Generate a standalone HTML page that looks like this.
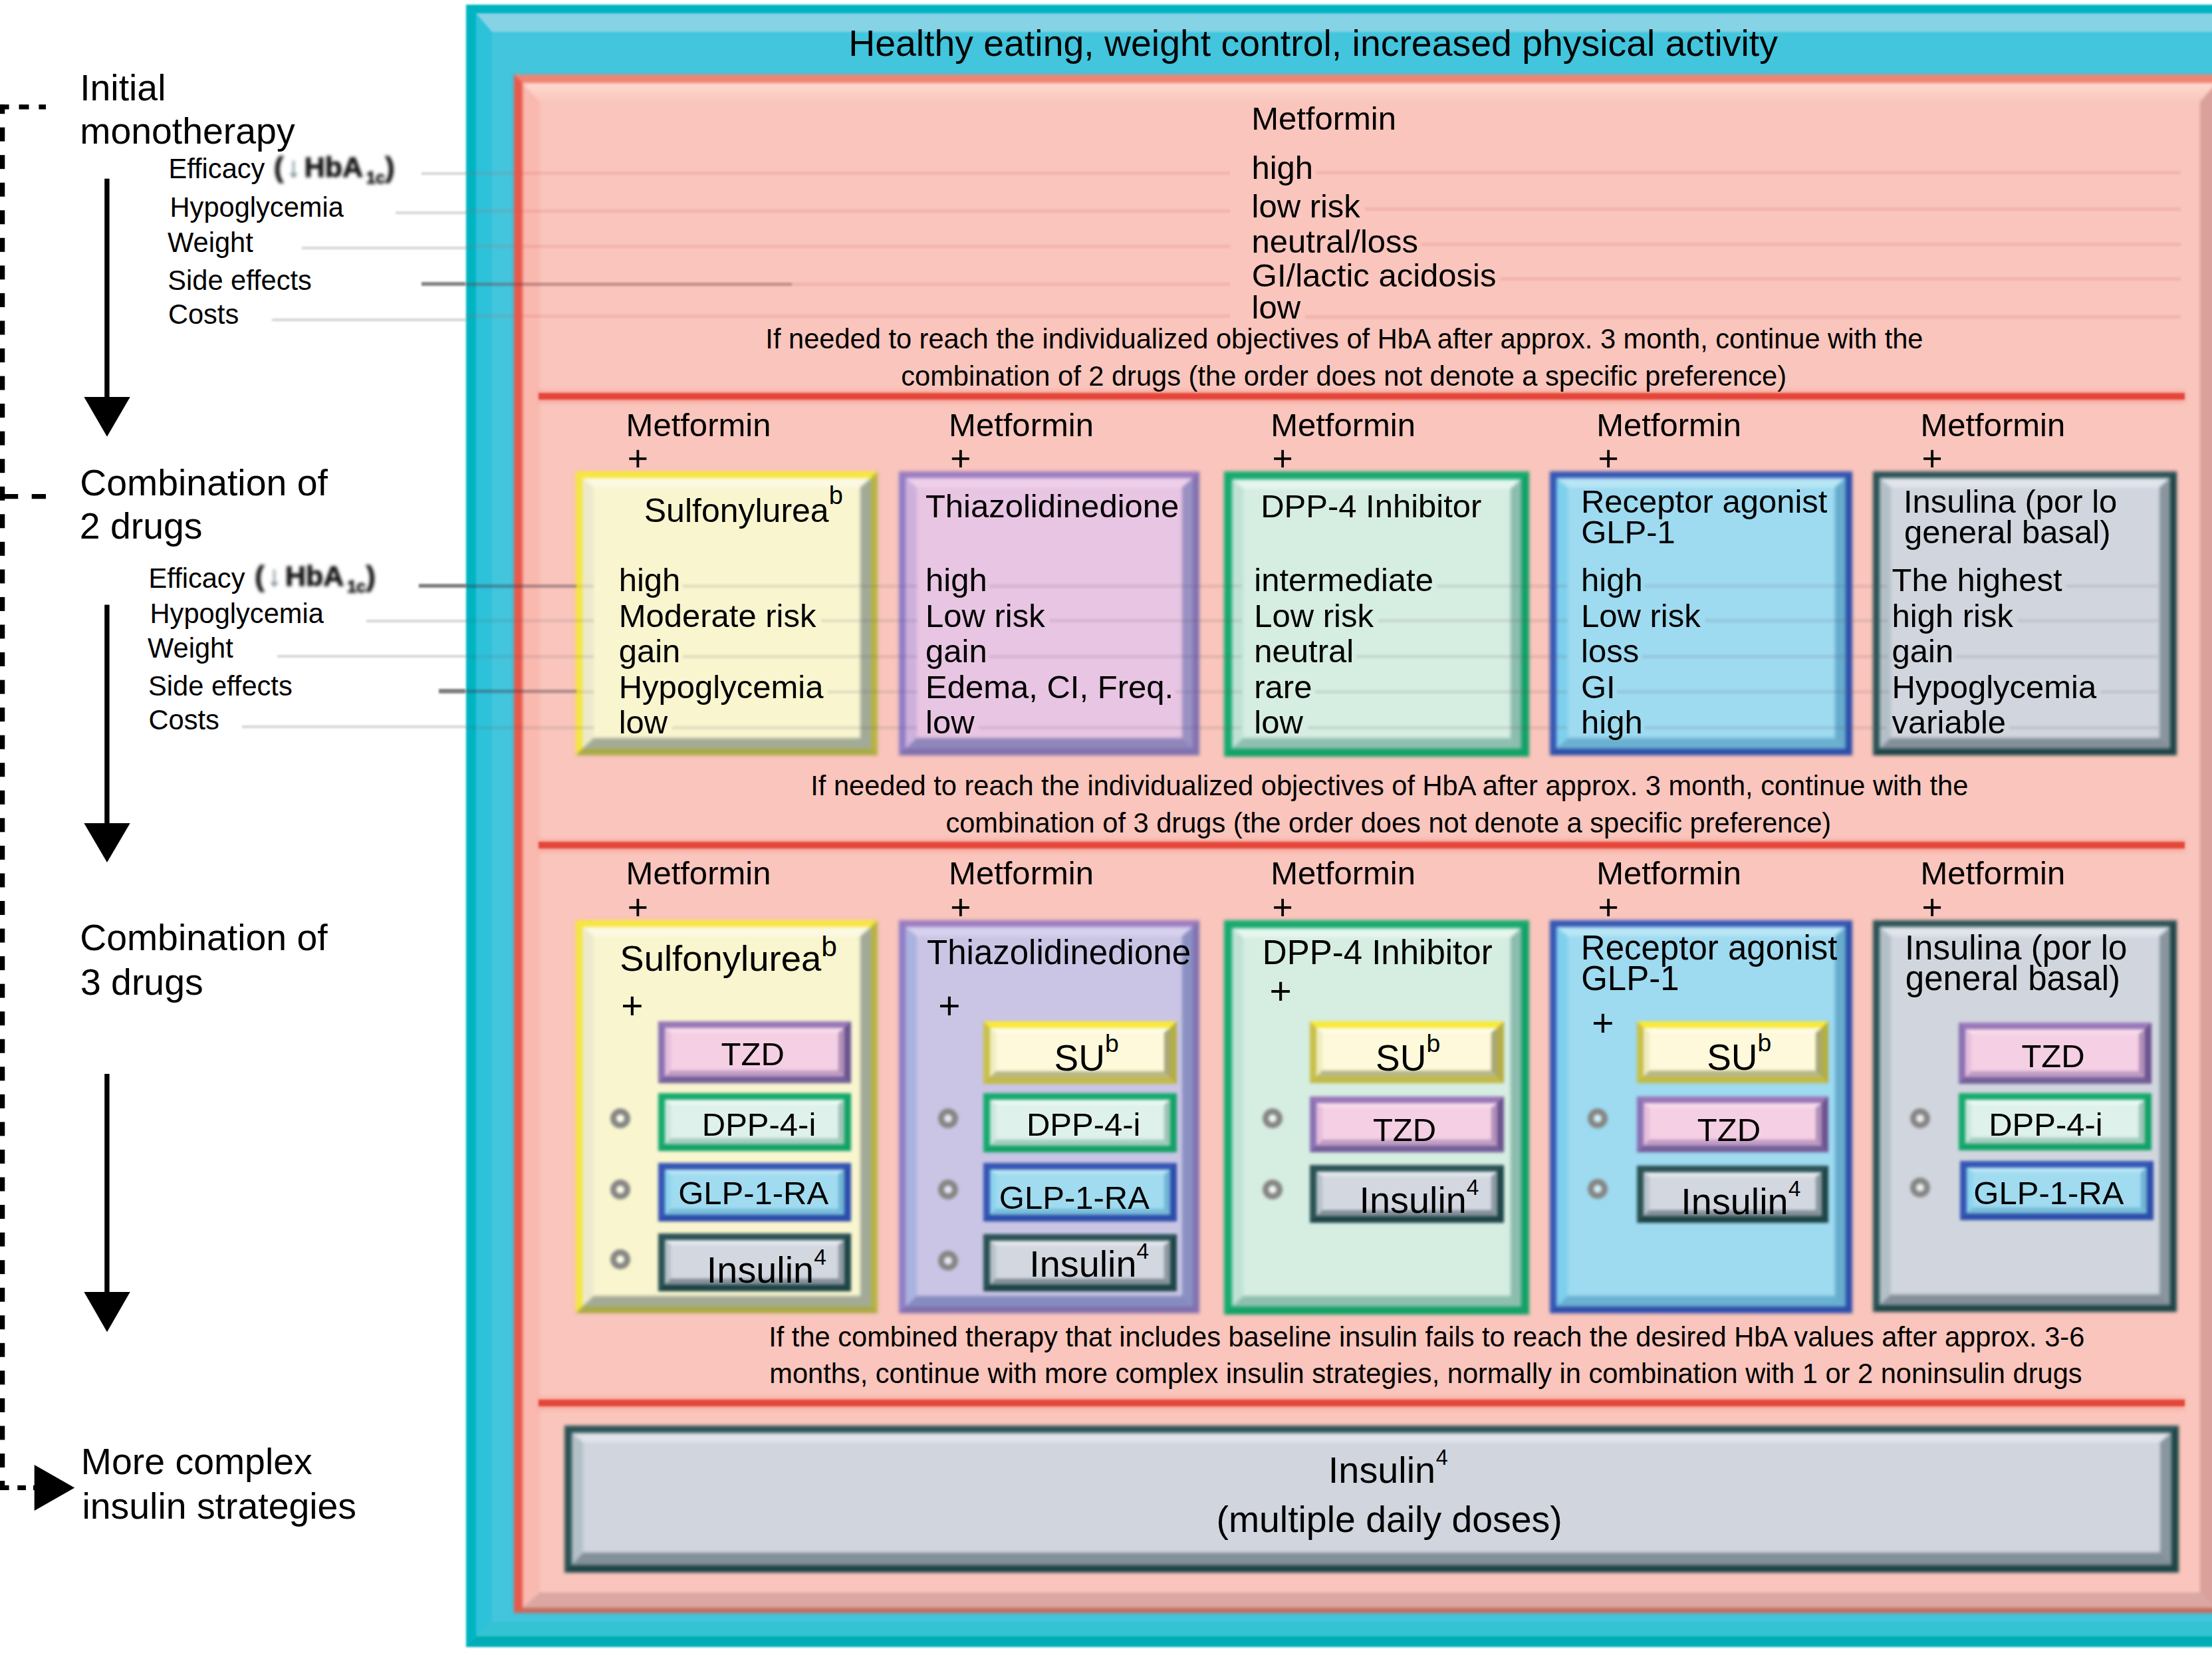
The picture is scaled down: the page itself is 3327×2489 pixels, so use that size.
<!DOCTYPE html>
<html lang="en"><head><meta charset="utf-8"><title>Type 2 diabetes therapy algorithm</title>
<style>
html,body{margin:0;padding:0;background:#fff}
body{width:3327px;height:2489px;position:relative;overflow:hidden;font-family:"Liberation Sans",sans-serif;color:#000}
.bx,.r,.t{position:absolute;box-sizing:border-box}
.bx{border-style:solid}
.bv{box-sizing:border-box;width:100%;height:100%;border-style:solid}
.t{line-height:1;white-space:nowrap}
.sp{position:relative;display:inline-block;line-height:0}
.ln{position:absolute;height:4px;filter:blur(1.5px)}
.dot{position:absolute;box-sizing:border-box;border-radius:50%;border:9px solid #868684;background:rgba(255,255,255,.5);filter:blur(2px)}
.hb{font-weight:bold;color:#141414;-webkit-text-stroke:1px #141414;filter:blur(2.4px);display:inline-block}
.ar{font-weight:normal;color:#71878f;-webkit-text-stroke:.5px #71878f;margin:0 .13em 0 .1em}
.sb{font-size:.58em;position:relative;top:.40em;margin:0 .02em 0 .2em}
.hbw{letter-spacing:0}
svg{position:absolute;left:0;top:0}
</style></head><body>
<div class="bx" style="left:701px;top:7px;width:2719px;height:2470px;border-width:13px 15px 16px 15px;border-color:#00b3c0 #00a8b4 #00adb6 #00b4c2;filter:blur(1.8px);"><div class="bv" style="border-width:28px 24px 22px 24px;border-color:#86d3e5 #2ab4c8 #33c3d3 #2ec2da;background:#42c5dd"></div></div>
<div class="bx" style="left:773px;top:112px;width:2573px;height:2314px;border-width:13px 13px 8px 13px;border-color:#f08474 #c86a5c #c56c5d #e9594a;filter:blur(2.2px);"><div class="bv" style="border-width:28px 24px 23px 26px;border-color:#fbd0c6 #d9a09c #dba7a2 #f9b9af;background:#f9c5bc"></div><div class="r" style="left:0;top:0;width:100%;height:30px;background:linear-gradient(to bottom,#fedcd3,#fbd0c6 45%,#f9c5bc);clip-path:polygon(0 0,100% 0,calc(100% - 25.7px) 100%,27.9px 100%)"></div></div>
<div class="t" style="left:1276.16px;top:38.0039px;font-size:55.4px;">Healthy eating, weight control, increased physical activity</div>
<div class="r" style="left:810px;top:587.8px;width:2475.5px;height:17px;background:rgba(242,120,105,.4);filter:blur(3px)"></div>
<div class="r" style="left:810px;top:591.3px;width:2475.5px;height:10px;background:#e5463a;filter:blur(1.8px)"></div>
<div class="r" style="left:810px;top:1262.8px;width:2475.5px;height:17px;background:rgba(242,120,105,.4);filter:blur(3px)"></div>
<div class="r" style="left:810px;top:1266.3px;width:2475.5px;height:10px;background:#e5463a;filter:blur(1.8px)"></div>
<div class="r" style="left:810px;top:2101.5px;width:2475.5px;height:17px;background:rgba(242,120,105,.4);filter:blur(3px)"></div>
<div class="r" style="left:810px;top:2105px;width:2475.5px;height:10px;background:#e5463a;filter:blur(1.8px)"></div>
<div class="t" style="left:1882.18px;top:154.221px;font-size:49px;">Metformin</div>
<div class="t" style="left:1882.4px;top:228.221px;font-size:49px;">high</div>
<div class="t" style="left:1882.5px;top:286.122px;font-size:49px;">low risk</div>
<div class="t" style="left:1882.55px;top:339.122px;font-size:49px;">neutral/loss</div>
<div class="t" style="left:1882.84px;top:390.221px;font-size:49px;">GI/lactic acidosis</div>
<div class="t" style="left:1882.5px;top:438.421px;font-size:49px;">low</div>
<div class="t" style="left:1151.36px;top:489.086px;font-size:41.6px;">If needed to reach the individualized objectives of HbA after approx. 3 month, continue with the</div>
<div class="t" style="left:1355.23px;top:545.186px;font-size:41.6px;">combination of 2 drugs (the order does not denote a specific preference)</div>
<div class="t" style="left:941.58px;top:614.521px;font-size:49px;">Metformin</div>
<div class="t" style="left:943.788px;top:663.101px;font-size:53.5px;">+</div>
<div class="bx" style="left:866px;top:709px;width:453.5px;height:426.5px;border-width:10.5px 10.5px 10.5px 10.5px;border-color:#f6e73a #b5b444 #a9aa46 #f5e63c;filter:blur(2.8px);"><div class="bv" style="border-width:14px 16px 16px 17px;border-color:#fbf9e4 #a2aa98 #a3ab97 #eceacb;background:#f8f5cf"></div></div>
<div class="t" style="left:1427.08px;top:614.521px;font-size:49px;">Metformin</div>
<div class="t" style="left:1429.29px;top:663.101px;font-size:53.5px;">+</div>
<div class="bx" style="left:1352px;top:709px;width:452px;height:426.5px;border-width:10.5px 10.5px 10.5px 10.5px;border-color:#9b7cc0 #8272b2 #8070ae #8f7dc6;filter:blur(2.8px);"><div class="bv" style="border-width:14px 16px 16px 17px;border-color:#efd0ea #9a90c2 #8f86ba #cdb0dc;background:#e8c5e2"></div></div>
<div class="t" style="left:1911.18px;top:614.521px;font-size:49px;">Metformin</div>
<div class="t" style="left:1913.39px;top:663.101px;font-size:53.5px;">+</div>
<div class="bx" style="left:1840.5px;top:709px;width:459.5px;height:428.5px;border-width:12.5px 12.5px 12.5px 12.5px;border-color:#17aa6e #12a266 #12a266 #17aa6e;filter:blur(2.8px);"><div class="bv" style="border-width:14px 16px 16px 17px;border-color:#e6f6ef #8cbcae #8fbfb0 #c0e2d6;background:#d6ede2"></div></div>
<div class="t" style="left:2401.18px;top:614.521px;font-size:49px;">Metformin</div>
<div class="t" style="left:2403.39px;top:663.101px;font-size:53.5px;">+</div>
<div class="bx" style="left:2330.5px;top:709px;width:455.5px;height:426.5px;border-width:10.5px 10.5px 10.5px 10.5px;border-color:#3556b4 #2c4eaa #2c4eaa #3556b4;filter:blur(2.8px);"><div class="bv" style="border-width:14px 16px 16px 17px;border-color:#b8e6f5 #66accd #6ab0d0 #7ed0ee;background:#9edaf0"></div></div>
<div class="t" style="left:2888.38px;top:614.521px;font-size:49px;">Metformin</div>
<div class="t" style="left:2890.59px;top:663.101px;font-size:53.5px;">+</div>
<div class="bx" style="left:2817px;top:709px;width:457px;height:426.5px;border-width:10.5px 10.5px 10.5px 10.5px;border-color:#2c5356 #1e4648 #1c4446 #2a5254;filter:blur(2.8px);"><div class="bv" style="border-width:14px 16px 16px 17px;border-color:#e1e5eb #8996a0 #838f99 #b4c0c8;background:#d1d6de"></div></div>
<div class="t" style="left:968.729px;top:743.475px;font-size:50px;">Sulfonylurea<span class="sp" style="font-size:0.76em;top:-0.728947em;margin-left:0em">b</span></div>
<div class="t" style="left:1391.9px;top:736.821px;font-size:49px;">Thiazolidinedione</div>
<div class="t" style="left:1896.18px;top:736.521px;font-size:49px;">DPP-4 Inhibitor</div>
<div class="t" style="left:2377.98px;top:729.821px;font-size:49px;">Receptor agonist</div>
<div class="t" style="left:2378.24px;top:776.021px;font-size:49px;">GLP-1</div>
<div class="t" style="left:2862.88px;top:729.821px;font-size:49px;">Insulina (por lo</div>
<div class="t" style="left:2863.94px;top:776.121px;font-size:49px;">general basal)</div>
<div class="t" style="left:930.7px;top:848.321px;font-size:49px;">high</div>
<div class="t" style="left:930.7px;top:901.521px;font-size:49px;">Moderate risk</div>
<div class="t" style="left:930.7px;top:954.521px;font-size:49px;">gain</div>
<div class="t" style="left:930.7px;top:1008.52px;font-size:49px;">Hypoglycemia</div>
<div class="t" style="left:930.7px;top:1061.52px;font-size:49px;">low</div>
<div class="t" style="left:1392px;top:848.321px;font-size:49px;">high</div>
<div class="t" style="left:1392px;top:901.521px;font-size:49px;">Low risk</div>
<div class="t" style="left:1392px;top:954.521px;font-size:49px;">gain</div>
<div class="t" style="left:1392px;top:1008.52px;font-size:49px;">Edema, CI, Freq.</div>
<div class="t" style="left:1392px;top:1061.52px;font-size:49px;">low</div>
<div class="t" style="left:1886.3px;top:848.321px;font-size:49px;">intermediate</div>
<div class="t" style="left:1886.3px;top:901.521px;font-size:49px;">Low risk</div>
<div class="t" style="left:1886.3px;top:954.521px;font-size:49px;">neutral</div>
<div class="t" style="left:1886.3px;top:1008.52px;font-size:49px;">rare</div>
<div class="t" style="left:1886.3px;top:1061.52px;font-size:49px;">low</div>
<div class="t" style="left:2378px;top:848.321px;font-size:49px;">high</div>
<div class="t" style="left:2378px;top:901.521px;font-size:49px;">Low risk</div>
<div class="t" style="left:2378px;top:954.521px;font-size:49px;">loss</div>
<div class="t" style="left:2378px;top:1008.52px;font-size:49px;">GI</div>
<div class="t" style="left:2378px;top:1061.52px;font-size:49px;">high</div>
<div class="t" style="left:2845.5px;top:848.321px;font-size:49px;">The highest</div>
<div class="t" style="left:2845.5px;top:901.521px;font-size:49px;">high risk</div>
<div class="t" style="left:2845.5px;top:954.521px;font-size:49px;">gain</div>
<div class="t" style="left:2845.5px;top:1008.52px;font-size:49px;">Hypoglycemia</div>
<div class="t" style="left:2845.5px;top:1061.52px;font-size:49px;">variable</div>
<div class="t" style="left:1219.26px;top:1161.49px;font-size:41.6px;">If needed to reach the individualized objectives of HbA after approx. 3 month, continue with the</div>
<div class="t" style="left:1422.43px;top:1216.99px;font-size:41.6px;">combination of 3 drugs (the order does not denote a specific preference)</div>
<div class="t" style="left:941.58px;top:1289.32px;font-size:49px;">Metformin</div>
<div class="t" style="left:943.788px;top:1337.9px;font-size:53.5px;">+</div>
<div class="bx" style="left:866px;top:1384px;width:453.5px;height:590.6px;border-width:10.5px 10.5px 10.5px 10.5px;border-color:#f6e73a #b5b444 #a9aa46 #f5e63c;filter:blur(2.8px);"><div class="bv" style="border-width:14px 16px 16px 17px;border-color:#fbf9e4 #a2aa98 #a3ab97 #eceacb;background:#f8f5cf"></div></div>
<div class="t" style="left:1427.08px;top:1289.32px;font-size:49px;">Metformin</div>
<div class="t" style="left:1429.29px;top:1337.9px;font-size:53.5px;">+</div>
<div class="bx" style="left:1352px;top:1384px;width:452px;height:590.6px;border-width:10.5px 10.5px 10.5px 10.5px;border-color:#9b7cc0 #8272b2 #8070ae #8f7dc6;filter:blur(2.8px);"><div class="bv" style="border-width:14px 16px 16px 17px;border-color:#d6d2ee #8a90c2 #868cc0 #aab2e0;background:#cac5e5"></div></div>
<div class="t" style="left:1911.18px;top:1289.32px;font-size:49px;">Metformin</div>
<div class="t" style="left:1913.39px;top:1337.9px;font-size:53.5px;">+</div>
<div class="bx" style="left:1840.5px;top:1384px;width:459.5px;height:592.5px;border-width:12.5px 12.5px 12.5px 12.5px;border-color:#17aa6e #12a266 #12a266 #17aa6e;filter:blur(2.8px);"><div class="bv" style="border-width:14px 16px 16px 17px;border-color:#e6f6ef #8cbcae #8fbfb0 #c0e2d6;background:#d6ede2"></div></div>
<div class="t" style="left:2401.18px;top:1289.32px;font-size:49px;">Metformin</div>
<div class="t" style="left:2403.39px;top:1337.9px;font-size:53.5px;">+</div>
<div class="bx" style="left:2330.5px;top:1384px;width:455.5px;height:590.6px;border-width:10.5px 10.5px 10.5px 10.5px;border-color:#3556b4 #2c4eaa #2c4eaa #3556b4;filter:blur(2.8px);"><div class="bv" style="border-width:14px 16px 16px 17px;border-color:#b8e6f5 #66accd #6ab0d0 #7ed0ee;background:#9edaf0"></div></div>
<div class="t" style="left:2888.38px;top:1289.32px;font-size:49px;">Metformin</div>
<div class="t" style="left:2890.59px;top:1337.9px;font-size:53.5px;">+</div>
<div class="bx" style="left:2817px;top:1384px;width:457px;height:588.5px;border-width:10.5px 10.5px 10.5px 10.5px;border-color:#2c5356 #1e4648 #1c4446 #2a5254;filter:blur(2.8px);"><div class="bv" style="border-width:14px 16px 16px 17px;border-color:#e1e5eb #8996a0 #838f99 #b4c0c8;background:#d1d6de"></div></div>
<div class="t" style="left:932.325px;top:1415.17px;font-size:54.5px;">Sulfonylurea<span class="sp" style="font-size:0.78em;top:-0.512821em;margin-left:0em">b</span></div>
<div class="t" style="left:1394.05px;top:1407.23px;font-size:51px;">Thiazolidinedione</div>
<div class="t" style="left:1898.82px;top:1407.23px;font-size:51px;">DPP-4 Inhibitor</div>
<div class="t" style="left:2377.82px;top:1399.83px;font-size:51px;">Receptor agonist</div>
<div class="t" style="left:2378.14px;top:1445.83px;font-size:51px;">GLP-1</div>
<div class="t" style="left:2864.89px;top:1399.83px;font-size:51px;">Insulina (por lo</div>
<div class="t" style="left:2865.86px;top:1446.13px;font-size:51px;">general basal)</div>
<div class="t" style="left:934.217px;top:1483.7px;font-size:57px;">+</div>
<div class="t" style="left:1411.22px;top:1484.2px;font-size:57px;">+</div>
<div class="t" style="left:1909.62px;top:1461.7px;font-size:57px;">+</div>
<div class="t" style="left:2394.22px;top:1509.5px;font-size:57px;">+</div>
<div class="bx" style="left:990px;top:1536px;width:290px;height:92.5px;border-width:10px 10px 10px 10px;border-color:#9a78b8 #6c5490 #75609a #8a72b4;filter:blur(2.2px);"><div class="bv" style="border-width:7px 9px 9px 9px;border-color:#f8dcea #b090b8 #c09cc4 #e6bedc;background:#f5cfe3"></div></div>
<div class="t" style="left:1084.6px;top:1561.22px;font-size:49px;">TZD</div>
<div class="bx" style="left:990px;top:1643.5px;width:290px;height:87.8px;border-width:10px 10px 10px 10px;border-color:#17aa6e #12a266 #12a266 #17aa6e;filter:blur(2.2px);"><div class="bv" style="border-width:7px 9px 9px 9px;border-color:#eef9f4 #9cc4b6 #a4ccbe #cce6dc;background:#def1ea"></div></div>
<div class="t" style="left:1055.78px;top:1667.22px;font-size:49px;">DPP-4-i</div>
<div class="bx" style="left:990px;top:1749px;width:290px;height:88.3px;border-width:10px 10px 10px 10px;border-color:#3556b4 #2c4eaa #2c4eaa #3556b4;filter:blur(2.2px);"><div class="bv" style="border-width:7px 9px 9px 9px;border-color:#b8e6f5 #70b4d4 #78bcd8 #8cd4ee;background:#a0dbf0"></div></div>
<div class="t" style="left:1020.14px;top:1770.02px;font-size:49px;">GLP-1-RA</div>
<div class="bx" style="left:990px;top:1855px;width:290px;height:87px;border-width:10px 10px 10px 10px;border-color:#2c5356 #1e4648 #1c4446 #2a5254;filter:blur(2.2px);"><div class="bv" style="border-width:7px 9px 9px 9px;border-color:#e4e8ee #8c98a2 #848f99 #b8c2ca;background:#d3d8e0"></div></div>
<div class="t" style="left:1062.85px;top:1882.47px;font-size:55.8px;">Insulin<span class="sp" style="font-size:0.6em;top:-0.816667em;margin-left:0em">4</span></div>
<div class="bx" style="left:1479.2px;top:1536px;width:290.4px;height:94px;border-width:10px 10px 10px 10px;border-color:#f8e93a #b4ae44 #c2ba48 #c8c04c;filter:blur(2.2px);"><div class="bv" style="border-width:7px 9px 9px 9px;border-color:#fefce8 #a8a878 #b8b888 #f0ecc0;background:#fdf9da"></div></div>
<div class="t" style="left:1585.5px;top:1564.24px;font-size:55px;">SU<span class="sp" style="font-size:0.68em;top:-0.75em;margin-left:0em">b</span></div>
<div class="bx" style="left:1479.2px;top:1643.5px;width:290.4px;height:89.1px;border-width:10px 10px 10px 10px;border-color:#17aa6e #12a266 #12a266 #17aa6e;filter:blur(2.2px);"><div class="bv" style="border-width:7px 9px 9px 9px;border-color:#eef9f4 #9cc4b6 #a4ccbe #cce6dc;background:#def1ea"></div></div>
<div class="t" style="left:1543.98px;top:1667.22px;font-size:49px;">DPP-4-i</div>
<div class="bx" style="left:1479.2px;top:1749px;width:290.4px;height:88.3px;border-width:10px 10px 10px 10px;border-color:#3556b4 #2c4eaa #2c4eaa #3556b4;filter:blur(2.2px);"><div class="bv" style="border-width:7px 9px 9px 9px;border-color:#b8e6f5 #70b4d4 #78bcd8 #8cd4ee;background:#a0dbf0"></div></div>
<div class="t" style="left:1502.84px;top:1776.82px;font-size:49px;">GLP-1-RA</div>
<div class="bx" style="left:1479.2px;top:1855.5px;width:290.4px;height:86.5px;border-width:10px 10px 10px 10px;border-color:#2c5356 #1e4648 #1c4446 #2a5254;filter:blur(2.2px);"><div class="bv" style="border-width:7px 9px 9px 9px;border-color:#e4e8ee #8c98a2 #848f99 #b8c2ca;background:#d3d8e0"></div></div>
<div class="t" style="left:1548.25px;top:1872.97px;font-size:55.8px;">Insulin<span class="sp" style="font-size:0.6em;top:-0.816667em;margin-left:0em">4</span></div>
<div class="bx" style="left:1970.4px;top:1536px;width:291.6px;height:92.5px;border-width:10px 10px 10px 10px;border-color:#f8e93a #b4ae44 #c2ba48 #c8c04c;filter:blur(2.2px);"><div class="bv" style="border-width:7px 9px 9px 9px;border-color:#fefce8 #a8a878 #b8b888 #f0ecc0;background:#fdf9da"></div></div>
<div class="t" style="left:2069px;top:1564.24px;font-size:55px;">SU<span class="sp" style="font-size:0.68em;top:-0.75em;margin-left:0em">b</span></div>
<div class="bx" style="left:1970.4px;top:1649px;width:291.6px;height:83.6px;border-width:10px 10px 10px 10px;border-color:#9a78b8 #6c5490 #75609a #8a72b4;filter:blur(2.2px);"><div class="bv" style="border-width:7px 9px 9px 9px;border-color:#f8dcea #b090b8 #c09cc4 #e6bedc;background:#f5cfe3"></div></div>
<div class="t" style="left:2064.9px;top:1674.82px;font-size:49px;">TZD</div>
<div class="bx" style="left:1970.4px;top:1751.7px;width:291.6px;height:87px;border-width:10px 10px 10px 10px;border-color:#2c5356 #1e4648 #1c4446 #2a5254;filter:blur(2.2px);"><div class="bv" style="border-width:7px 9px 9px 9px;border-color:#e4e8ee #8c98a2 #848f99 #b8c2ca;background:#d3d8e0"></div></div>
<div class="t" style="left:2044.55px;top:1777.27px;font-size:55.8px;">Insulin<span class="sp" style="font-size:0.6em;top:-0.816667em;margin-left:0em">4</span></div>
<div class="bx" style="left:2462.3px;top:1536px;width:288.2px;height:92.5px;border-width:10px 10px 10px 10px;border-color:#f8e93a #b4ae44 #c2ba48 #c8c04c;filter:blur(2.2px);"><div class="bv" style="border-width:7px 9px 9px 9px;border-color:#fefce8 #a8a878 #b8b888 #f0ecc0;background:#fdf9da"></div></div>
<div class="t" style="left:2567.2px;top:1562.94px;font-size:55px;">SU<span class="sp" style="font-size:0.68em;top:-0.75em;margin-left:0em">b</span></div>
<div class="bx" style="left:2462.3px;top:1649px;width:288.2px;height:83.6px;border-width:10px 10px 10px 10px;border-color:#9a78b8 #6c5490 #75609a #8a72b4;filter:blur(2.2px);"><div class="bv" style="border-width:7px 9px 9px 9px;border-color:#f8dcea #b090b8 #c09cc4 #e6bedc;background:#f5cfe3"></div></div>
<div class="t" style="left:2552.8px;top:1674.82px;font-size:49px;">TZD</div>
<div class="bx" style="left:2462.3px;top:1753px;width:288.2px;height:85.7px;border-width:10px 10px 10px 10px;border-color:#2c5356 #1e4648 #1c4446 #2a5254;filter:blur(2.2px);"><div class="bv" style="border-width:7px 9px 9px 9px;border-color:#e4e8ee #8c98a2 #848f99 #b8c2ca;background:#d3d8e0"></div></div>
<div class="t" style="left:2528.35px;top:1779.17px;font-size:55.8px;">Insulin<span class="sp" style="font-size:0.6em;top:-0.816667em;margin-left:0em">4</span></div>
<div class="bx" style="left:2946.3px;top:1537.5px;width:289.7px;height:92.5px;border-width:10px 10px 10px 10px;border-color:#9a78b8 #6c5490 #75609a #8a72b4;filter:blur(2.2px);"><div class="bv" style="border-width:7px 9px 9px 9px;border-color:#f8dcea #b090b8 #c09cc4 #e6bedc;background:#f5cfe3"></div></div>
<div class="t" style="left:3040.4px;top:1564.02px;font-size:49px;">TZD</div>
<div class="bx" style="left:2946.3px;top:1643.5px;width:289.7px;height:86.5px;border-width:10px 10px 10px 10px;border-color:#17aa6e #12a266 #12a266 #17aa6e;filter:blur(2.2px);"><div class="bv" style="border-width:7px 9px 9px 9px;border-color:#eef9f4 #9cc4b6 #a4ccbe #cce6dc;background:#def1ea"></div></div>
<div class="t" style="left:2991.18px;top:1667.32px;font-size:49px;">DPP-4-i</div>
<div class="bx" style="left:2947.7px;top:1746.2px;width:290.9px;height:88.4px;border-width:10px 10px 10px 10px;border-color:#3556b4 #2c4eaa #2c4eaa #3556b4;filter:blur(2.2px);"><div class="bv" style="border-width:7px 9px 9px 9px;border-color:#b8e6f5 #70b4d4 #78bcd8 #8cd4ee;background:#a0dbf0"></div></div>
<div class="t" style="left:2968.34px;top:1770.02px;font-size:49px;">GLP-1-RA</div>
<div class="dot" style="left:917.9px;top:1666.5px;width:30px;height:30px"></div>
<div class="dot" style="left:917.9px;top:1774.2px;width:30px;height:30px"></div>
<div class="dot" style="left:917.9px;top:1878.6px;width:30px;height:30px"></div>
<div class="dot" style="left:1410.6px;top:1667px;width:30px;height:30px"></div>
<div class="dot" style="left:1410.6px;top:1774.2px;width:30px;height:30px"></div>
<div class="dot" style="left:1410.6px;top:1881.3px;width:30px;height:30px"></div>
<div class="dot" style="left:1898.8px;top:1667.3px;width:30px;height:30px"></div>
<div class="dot" style="left:1898.8px;top:1774.2px;width:30px;height:30px"></div>
<div class="dot" style="left:2388.3px;top:1667.3px;width:30px;height:30px"></div>
<div class="dot" style="left:2388.3px;top:1773.4px;width:30px;height:30px"></div>
<div class="dot" style="left:2872.8px;top:1667.4px;width:30px;height:30px"></div>
<div class="dot" style="left:2872.8px;top:1771.2px;width:30px;height:30px"></div>
<div class="t" style="left:1156.16px;top:1989.79px;font-size:41.6px;">If the combined therapy that includes baseline insulin fails to reach the desired HbA values after approx. 3-6</div>
<div class="t" style="left:1157.24px;top:2045.39px;font-size:41.6px;">months, continue with more complex insulin strategies, normally in combination with 1 or 2 noninsulin drugs</div>
<div class="bx" style="left:849px;top:2144px;width:2428px;height:220.8px;border-width:11.5px 11.5px 11.5px 11.5px;border-color:#2c5356 #1e4648 #1c4446 #2a5254;filter:blur(2.6px);"><div class="bv" style="border-width:14px 17px 19px 17.5px;border-color:#e1e5eb #8996a0 #838f99 #b4c0c8;background:#d1d6de"></div></div>
<div class="t" style="left:1997.85px;top:2183.17px;font-size:55.8px;">Insulin<span class="sp" style="font-size:0.58em;top:-0.839655em;margin-left:0.0172414em">4</span></div>
<div class="t" style="left:1829.46px;top:2258.1px;font-size:55.4px;">(multiple daily doses)</div>
<div class="t" style="left:120.187px;top:105.104px;font-size:55.4px;">Initial</div>
<div class="t" style="left:120.321px;top:169.504px;font-size:55.4px;">monotherapy</div>
<div class="t" style="left:120.287px;top:699.304px;font-size:55.4px;">Combination of</div>
<div class="t" style="left:119.814px;top:764.104px;font-size:55.4px;">2 drugs</div>
<div class="t" style="left:120.187px;top:1383.1px;font-size:55.4px;">Combination of</div>
<div class="t" style="left:120.89px;top:1449.5px;font-size:55.4px;">3 drugs</div>
<div class="t" style="left:121.855px;top:2171.2px;font-size:55.4px;">More complex</div>
<div class="t" style="left:123.494px;top:2238.4px;font-size:55.4px;">insulin strategies</div>
<div class="t" style="left:253.487px;top:233.386px;font-size:41.6px;">Efficacy</div>
<div class="t" style="left:255.588px;top:290.786px;font-size:41.6px;">Hypoglycemia</div>
<div class="t" style="left:252.117px;top:343.786px;font-size:41.6px;">Weight</div>
<div class="t" style="left:252.311px;top:401.486px;font-size:41.6px;">Side effects</div>
<div class="t" style="left:252.887px;top:451.786px;font-size:41.6px;">Costs</div>
<div class="t" style="left:223.588px;top:848.786px;font-size:41.6px;">Efficacy</div>
<div class="t" style="left:225.588px;top:901.786px;font-size:41.6px;">Hypoglycemia</div>
<div class="t" style="left:222.117px;top:953.786px;font-size:41.6px;">Weight</div>
<div class="t" style="left:223.111px;top:1011.49px;font-size:41.6px;">Side effects</div>
<div class="t" style="left:223.487px;top:1061.79px;font-size:41.6px;">Costs</div>
<div class="t hbw" style="left:412px;top:229.901px;font-size:43px;"><span class="hb">(<span class="ar">&darr;</span>HbA<span class="sb">1c</span>)</span></div>
<div class="t hbw" style="left:383.2px;top:845.301px;font-size:43px;"><span class="hb">(<span class="ar">&darr;</span>HbA<span class="sb">1c</span>)</span></div>
<div class="ln" style="left:634px;top:259.3px;width:67px;background:rgba(70,70,70,.22)"></div>
<div class="ln" style="left:701px;top:257.5px;width:1149px;height:5px;background:rgba(205,90,90,.15)"></div>
<div class="ln" style="left:1978.86px;top:257.1px;width:1301.14px;height:5px;background:rgba(205,90,90,.15)"></div>
<div class="ln" style="left:595px;top:317.7px;width:106px;background:rgba(70,70,70,.22)"></div>
<div class="ln" style="left:701px;top:315px;width:1149px;height:5px;background:rgba(205,90,90,.15)"></div>
<div class="ln" style="left:2052.91px;top:312px;width:1227.09px;height:5px;background:rgba(205,90,90,.15)"></div>
<div class="ln" style="left:453.5px;top:370.8px;width:247.5px;background:rgba(70,70,70,.22)"></div>
<div class="ln" style="left:701px;top:367.5px;width:1149px;height:5px;background:rgba(205,90,90,.15)"></div>
<div class="ln" style="left:2138.35px;top:364.5px;width:1141.65px;height:5px;background:rgba(205,90,90,.15)"></div>
<div class="ln" style="left:634px;top:425px;width:67px;background:rgba(70,70,70,.22)"></div>
<div class="ln" style="left:701px;top:425px;width:1149px;height:5px;background:rgba(205,90,90,.15)"></div>
<div class="ln" style="left:2255.68px;top:417.3px;width:1024.32px;height:5px;background:rgba(205,90,90,.15)"></div>
<div class="ln" style="left:408.6px;top:478.7px;width:292.4px;background:rgba(70,70,70,.22)"></div>
<div class="ln" style="left:701px;top:473px;width:1149px;height:5px;background:rgba(205,90,90,.15)"></div>
<div class="ln" style="left:1963.14px;top:473.5px;width:1316.86px;height:5px;background:rgba(205,90,90,.15)"></div>
<div class="ln" style="left:630px;top:878.8px;width:71px;background:rgba(70,70,70,.5)"></div>
<div class="ln" style="left:701px;top:879.3px;width:192px;height:5px;background:rgba(100,80,100,.12)"></div>
<div class="ln" style="left:1027.16px;top:879.3px;width:351.842px;height:5px;background:rgba(100,80,100,.12)"></div>
<div class="ln" style="left:1488.46px;top:879.3px;width:379.042px;height:5px;background:rgba(100,80,100,.12)"></div>
<div class="ln" style="left:2160.77px;top:879.3px;width:196.734px;height:5px;background:rgba(100,80,100,.12)"></div>
<div class="ln" style="left:2474.46px;top:879.3px;width:363.142px;height:5px;background:rgba(100,80,100,.12)"></div>
<div class="ln" style="left:3108.19px;top:879.3px;width:137.805px;height:5px;background:rgba(100,80,100,.12)"></div>
<div class="ln" style="left:551px;top:932.4px;width:150px;background:rgba(70,70,70,.22)"></div>
<div class="ln" style="left:701px;top:931.2px;width:192px;height:5px;background:rgba(100,80,100,.12)"></div>
<div class="ln" style="left:1234.6px;top:931.2px;width:144.405px;height:5px;background:rgba(100,80,100,.12)"></div>
<div class="ln" style="left:1578.78px;top:931.2px;width:288.722px;height:5px;background:rgba(100,80,100,.12)"></div>
<div class="ln" style="left:2073.08px;top:931.2px;width:284.422px;height:5px;background:rgba(100,80,100,.12)"></div>
<div class="ln" style="left:2564.78px;top:931.2px;width:275.119px;height:5px;background:rgba(100,80,100,.12)"></div>
<div class="ln" style="left:3035.03px;top:931.2px;width:210.97px;height:5px;background:rgba(100,80,100,.12)"></div>
<div class="ln" style="left:416.7px;top:984.8px;width:284.3px;background:rgba(70,70,70,.22)"></div>
<div class="ln" style="left:701px;top:984.8px;width:192px;height:5px;background:rgba(100,80,100,.12)"></div>
<div class="ln" style="left:1027.16px;top:984.8px;width:351.842px;height:5px;background:rgba(100,80,100,.12)"></div>
<div class="ln" style="left:1488.46px;top:984.8px;width:379.042px;height:5px;background:rgba(100,80,100,.12)"></div>
<div class="ln" style="left:2039.85px;top:984.8px;width:317.655px;height:5px;background:rgba(100,80,100,.12)"></div>
<div class="ln" style="left:2470.37px;top:984.8px;width:368.19px;height:5px;background:rgba(100,80,100,.12)"></div>
<div class="ln" style="left:2941.96px;top:984.8px;width:304.042px;height:5px;background:rgba(100,80,100,.12)"></div>
<div class="ln" style="left:660px;top:1036.5px;width:41px;background:rgba(70,70,70,.22)"></div>
<div class="ln" style="left:701px;top:1037.5px;width:192px;height:5px;background:rgba(100,80,100,.12)"></div>
<div class="ln" style="left:1245.43px;top:1037.5px;width:133.567px;height:5px;background:rgba(100,80,100,.12)"></div>
<div class="ln" style="left:1767.6px;top:1037.5px;width:99.8994px;height:5px;background:rgba(100,80,100,.12)"></div>
<div class="ln" style="left:1978.26px;top:1037.5px;width:379.24px;height:5px;background:rgba(100,80,100,.12)"></div>
<div class="ln" style="left:2432.21px;top:1037.5px;width:408.314px;height:5px;background:rgba(100,80,100,.12)"></div>
<div class="ln" style="left:3160.23px;top:1037.5px;width:85.7666px;height:5px;background:rgba(100,80,100,.12)"></div>
<div class="ln" style="left:363.7px;top:1090.9px;width:337.3px;background:rgba(70,70,70,.22)"></div>
<div class="ln" style="left:701px;top:1091.5px;width:192px;height:5px;background:rgba(100,80,100,.12)"></div>
<div class="ln" style="left:1011.34px;top:1091.5px;width:367.656px;height:5px;background:rgba(100,80,100,.12)"></div>
<div class="ln" style="left:1472.64px;top:1091.5px;width:394.856px;height:5px;background:rgba(100,80,100,.12)"></div>
<div class="ln" style="left:1966.94px;top:1091.5px;width:390.556px;height:5px;background:rgba(100,80,100,.12)"></div>
<div class="ln" style="left:2474.46px;top:1091.5px;width:362.209px;height:5px;background:rgba(100,80,100,.12)"></div>
<div class="ln" style="left:3021.92px;top:1091.5px;width:224.082px;height:5px;background:rgba(100,80,100,.12)"></div>
<div class="ln" style="left:701px;top:424.8px;width:490px;height:5px;background:rgba(70,45,50,.26)"></div>
<div class="ln" style="left:701px;top:878.6px;width:166px;height:5px;background:rgba(60,45,60,.3)"></div>
<div class="ln" style="left:701px;top:1036.5px;width:166px;height:5px;background:rgba(60,45,60,.3)"></div>
<div class="ln" style="left:634px;top:424px;width:66px;height:6px;background:rgba(50,50,50,.5)"></div>
<div class="ln" style="left:660px;top:1035.5px;width:40px;height:7px;background:rgba(50,50,50,.55)"></div>
<div class="ln" style="left:630px;top:877.8px;width:71px;height:6px;background:rgba(50,50,50,.4)"></div>
<svg width="3327" height="2489" viewBox="0 0 3327 2489">
<rect x="157.2" y="268.7" width="7.4" height="330.3" fill="#000"/>
<polygon points="126.4,597 195.7,597 161,656.8" fill="#000"/>
<rect x="157.2" y="909.5" width="7.4" height="330.5" fill="#000"/>
<polygon points="126.4,1238 195.7,1238 161,1297" fill="#000"/>
<rect x="157.2" y="1615" width="7.4" height="330" fill="#000"/>
<polygon points="126.4,1943 195.7,1943 161,2003.3" fill="#000"/>
<rect x="0" y="191.6" width="7.25" height="21" fill="#000"/>
<rect x="0" y="233.15" width="7.25" height="21" fill="#000"/>
<rect x="0" y="274.7" width="7.25" height="21" fill="#000"/>
<rect x="0" y="316.25" width="7.25" height="21" fill="#000"/>
<rect x="0" y="357.8" width="7.25" height="21" fill="#000"/>
<rect x="0" y="399.35" width="7.25" height="21" fill="#000"/>
<rect x="0" y="440.9" width="7.25" height="21" fill="#000"/>
<rect x="0" y="482.45" width="7.25" height="21" fill="#000"/>
<rect x="0" y="524" width="7.25" height="21" fill="#000"/>
<rect x="0" y="565.55" width="7.25" height="21" fill="#000"/>
<rect x="0" y="607.1" width="7.25" height="21" fill="#000"/>
<rect x="0" y="648.65" width="7.25" height="21" fill="#000"/>
<rect x="0" y="690.2" width="7.25" height="21" fill="#000"/>
<rect x="0" y="731.75" width="7.25" height="21" fill="#000"/>
<rect x="0" y="773.3" width="7.25" height="21" fill="#000"/>
<rect x="0" y="814.85" width="7.25" height="21" fill="#000"/>
<rect x="0" y="856.4" width="7.25" height="21" fill="#000"/>
<rect x="0" y="897.95" width="7.25" height="21" fill="#000"/>
<rect x="0" y="939.5" width="7.25" height="21" fill="#000"/>
<rect x="0" y="981.05" width="7.25" height="21" fill="#000"/>
<rect x="0" y="1022.6" width="7.25" height="21" fill="#000"/>
<rect x="0" y="1064.15" width="7.25" height="21" fill="#000"/>
<rect x="0" y="1105.7" width="7.25" height="21" fill="#000"/>
<rect x="0" y="1147.25" width="7.25" height="21" fill="#000"/>
<rect x="0" y="1188.8" width="7.25" height="21" fill="#000"/>
<rect x="0" y="1230.35" width="7.25" height="21" fill="#000"/>
<rect x="0" y="1271.9" width="7.25" height="21" fill="#000"/>
<rect x="0" y="1313.45" width="7.25" height="21" fill="#000"/>
<rect x="0" y="1355" width="7.25" height="21" fill="#000"/>
<rect x="0" y="1396.55" width="7.25" height="21" fill="#000"/>
<rect x="0" y="1438.1" width="7.25" height="21" fill="#000"/>
<rect x="0" y="1479.65" width="7.25" height="21" fill="#000"/>
<rect x="0" y="1521.2" width="7.25" height="21" fill="#000"/>
<rect x="0" y="1562.75" width="7.25" height="21" fill="#000"/>
<rect x="0" y="1604.3" width="7.25" height="21" fill="#000"/>
<rect x="0" y="1645.85" width="7.25" height="21" fill="#000"/>
<rect x="0" y="1687.4" width="7.25" height="21" fill="#000"/>
<rect x="0" y="1728.95" width="7.25" height="21" fill="#000"/>
<rect x="0" y="1770.5" width="7.25" height="21" fill="#000"/>
<rect x="0" y="1812.05" width="7.25" height="21" fill="#000"/>
<rect x="0" y="1853.6" width="7.25" height="21" fill="#000"/>
<rect x="0" y="1895.15" width="7.25" height="21" fill="#000"/>
<rect x="0" y="1936.7" width="7.25" height="21" fill="#000"/>
<rect x="0" y="1978.25" width="7.25" height="21" fill="#000"/>
<rect x="0" y="2019.8" width="7.25" height="21" fill="#000"/>
<rect x="0" y="2061.35" width="7.25" height="21" fill="#000"/>
<rect x="0" y="2102.9" width="7.25" height="21" fill="#000"/>
<rect x="0" y="2144.45" width="7.25" height="21" fill="#000"/>
<rect x="0" y="2186" width="7.25" height="21" fill="#000"/>
<rect x="0" y="157.2" width="7.25" height="14" fill="#000"/>
<rect x="0" y="157.2" width="13.6" height="7.25" fill="#000"/>
<rect x="28.5" y="157.2" width="15" height="7.25" fill="#000"/>
<rect x="58.4" y="157.2" width="10.6" height="7.25" fill="#000"/>
<rect x="0" y="743" width="27.2" height="7.25" fill="#000"/>
<rect x="47.7" y="743" width="21.3" height="7.25" fill="#000"/>
<rect x="0" y="2227" width="7.25" height="14" fill="#000"/>
<rect x="0" y="2233.8" width="13.6" height="7.25" fill="#000"/>
<rect x="26.3" y="2233.8" width="12.7" height="7.25" fill="#000"/>
<rect x="50" y="2233.8" width="10" height="7.25" fill="#000"/>
<polygon points="51.7,2203 51.7,2272 112.2,2237.4" fill="#000"/>
</svg>
</body></html>
